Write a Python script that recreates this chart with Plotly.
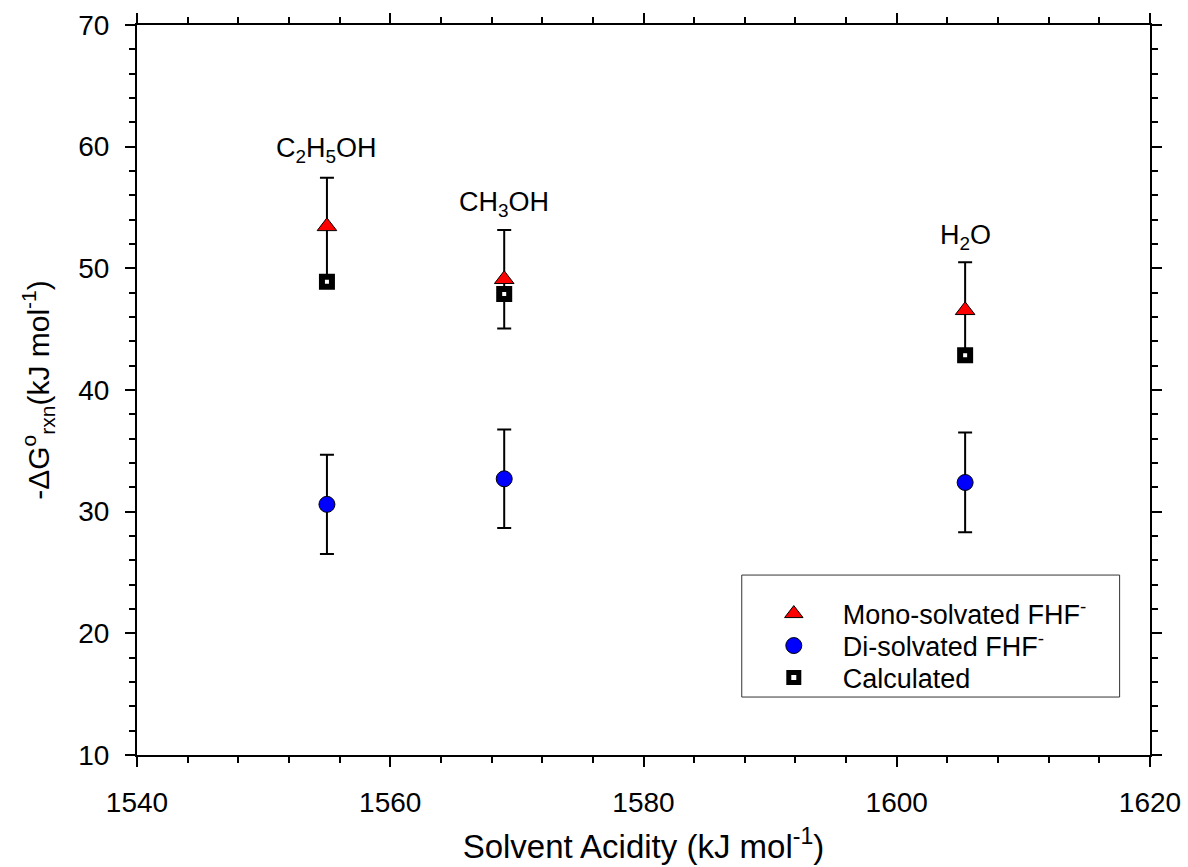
import plotly.graph_objects as go

# Solvent gas-phase acidities (kJ/mol) and labels
solvents = ["C<sub>2</sub>H<sub>5</sub>OH", "CH<sub>3</sub>OH", "H<sub>2</sub>O"]
acidity = [1555.0, 1569.0, 1605.4]

# -dG(rxn) values (kJ/mol)
mono = [53.45, 49.1, 46.55]
mono_err = [4.0, 4.05, 3.95]
di = [30.6, 32.7, 32.4]
di_err = [4.07, 4.05, 4.1]
calc = [48.9, 47.9, 42.85]

# label heights for the solvent names
label_y = [59.7, 55.3, 52.6]

FONT = "Liberation Sans, Arial, sans-serif"

fig = go.Figure()

fig.add_trace(go.Scatter(
    x=acidity, y=mono, mode="markers", name="Mono-solvated FHF<sup>-</sup>",
    legend="legend",
    marker=dict(symbol="triangle-up", size=17, color="#ff0000",
                line=dict(color="black", width=1)),
    error_y=dict(type="data", array=mono_err, color="black", thickness=2, width=7),
))
fig.add_trace(go.Scatter(
    x=acidity, y=di, mode="markers", name="Di-solvated FHF<sup>-</sup>",
    legend="legend2",
    marker=dict(symbol="circle", size=16, color="#0000ff",
                line=dict(color="black", width=1)),
    error_y=dict(type="data", array=di_err, color="black", thickness=2, width=7),
))
fig.add_trace(go.Scatter(
    x=acidity, y=calc, mode="markers", name="Calculated",
    legend="legend3",
    marker=dict(symbol="square", size=10, color="white",
                line=dict(color="black", width=6)),
))

for name, xv, yv in zip(solvents, acidity, label_y):
    fig.add_annotation(x=xv, y=yv, text=name, showarrow=False,
                       xanchor="center", yanchor="middle",
                       font=dict(family=FONT, size=27, color="black"))

# Legend frame
fig.add_shape(type="rect", xref="paper", yref="paper",
              x0=0.597, x1=0.970, y0=0.0794, y1=0.2465,
              line=dict(color="#333333", width=1), fillcolor="rgba(0,0,0,0)")

axis_common = dict(
    showline=True, linecolor="black", linewidth=2, mirror="allticks",
    ticks="outside", ticklen=10, tickwidth=2, tickcolor="black",
    showgrid=False, zeroline=False, automargin=False,
    tickfont=dict(family=FONT, size=28, color="black"),
)

fig.update_xaxes(
    range=[1540, 1620], tick0=1540, dtick=20,
    minor=dict(dtick=4, ticks="outside", ticklen=6, tickwidth=2, tickcolor="black"),
    ticklabelstandoff=11,
    title=dict(text="Solvent Acidity (kJ mol<sup>-1</sup>)",
               font=dict(family=FONT, size=33, color="black"), standoff=18),
    **axis_common,
)
fig.update_yaxes(
    range=[10, 70], tick0=10, dtick=10,
    minor=dict(dtick=2, ticks="outside", ticklen=6, tickwidth=2, tickcolor="black"),
    ticklabelstandoff=10,
    title=dict(text="-ΔG<sup>o</sup><sub>rxn</sub>(kJ mol<sup>-1</sup>)",
               font=dict(family=FONT, size=30, color="black"), standoff=20),
    **axis_common,
)

legend_common = dict(
    x=0.600, xanchor="left", yanchor="middle",
    bgcolor="rgba(0,0,0,0)", borderwidth=0, itemwidth=88,
    font=dict(family=FONT, size=27, color="black"),
)

fig.update_layout(
    width=1188, height=867,
    margin=dict(l=137, r=38, t=25, b=112),
    paper_bgcolor="white", plot_bgcolor="white",
    showlegend=True,
    legend=dict(y=0.1931, **legend_common),
    legend2=dict(y=0.1493, **legend_common),
    legend3=dict(y=0.1054, **legend_common),
)

fig.write_html("out.html")
